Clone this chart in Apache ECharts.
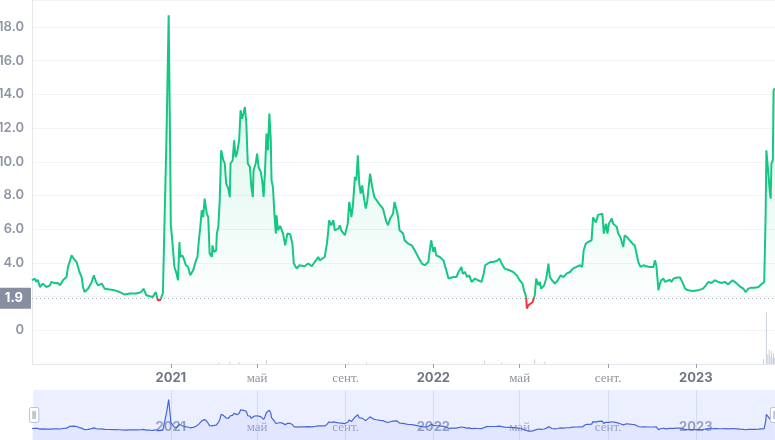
<!DOCTYPE html>
<html>
<head>
<meta charset="utf-8">
<script src="https://cdn.jsdelivr.net/npm/echarts@6.0.0/dist/echarts.min.js"></script>
<style>
html, body { margin: 0; padding: 0; background: #fff; }
#chart { width: 775px; height: 440px; }
</style>
</head>
<body>
<div id="chart"></div>
<script>
// x values are days counted from 2021-01-01
var priceDays = [
  -193, -189, -187, -185, -182, -178, -173, -168, -166, -161, -157, -154, -150, -145, -143, -140, -138, -135, -131, -127,
  -124, -122, -120, -115, -110, -107, -104, -101, -96, -92, -85, -78, -71, -64, -57, -48, -41, -38, -34, -29,
  -25, -21, -18, -15, -13, -11, -9, -6, -3, -1, 0,
  2, 5, 8, 10, 12, 13, 16, 18, 21, 24, 27, 31, 35, 37, 39, 41, 43, 45, 47, 50,
  52, 54, 57, 58, 60, 63, 64, 66, 68, 70, 73, 75, 77, 80, 82, 83, 86, 88, 90, 92,
  95, 97, 99, 101, 103, 105, 107, 110, 112, 114, 115, 118, 120, 122, 125, 127, 129, 131, 133, 135,
  137, 139, 140, 142, 144, 146, 147, 149, 152, 156, 159, 162, 166, 169, 171, 175, 179, 186, 191, 196,
  200, 205, 207, 214, 217, 219, 220, 223, 226, 228, 233, 235, 237, 242, 246, 248, 250, 251, 253, 256,
  258, 260, 262, 264, 266, 268, 271, 273, 277, 280, 283, 286, 288, 291, 295, 299, 302, 305, 309, 311,
  314, 316, 318, 323, 325, 330, 335, 339, 344, 349, 353, 358, 360, 362, 365, 367, 369, 374, 379, 383,
  386, 388, 393, 397, 400, 404, 406, 409, 412, 415, 418, 423, 427, 432, 435, 437, 439, 444, 448, 453,
  457, 460, 464, 471, 476, 481, 485, 489, 491, 494, 495, 497, 500, 503, 506, 508, 511, 513, 515, 519,
  522, 525, 527, 530, 534, 538, 542, 546, 550, 555, 559, 564, 569, 572, 574, 577, 580, 585, 587, 591,
  594, 596, 600, 602, 605, 607, 609, 613, 615, 620, 622, 625, 629, 631, 634, 638, 642, 645, 647, 650,
  653, 657, 661, 666, 671, 673, 675, 678, 680, 682, 685, 687, 689, 694, 696, 699, 704, 708, 711, 715,
  719, 726, 733, 740, 744, 747, 752, 756, 761, 766, 770, 775, 781, 787, 791, 796, 799, 803, 807, 812,
  817, 821, 825, 827, 828, 830, 833, 834, 835, 837, 838, 840
];
var priceValues = [
  2.97, 3.07, 2.87, 3.0, 2.57, 2.77, 2.57, 2.67, 2.87, 2.79, 2.8, 2.67, 2.97, 3.16, 3.76, 4.15, 4.45, 4.25, 4.05, 3.46,
  3.16, 2.57, 2.27, 2.47, 2.87, 3.26, 2.87, 2.67, 2.77, 2.47, 2.42, 2.37, 2.27, 2.12, 2.18, 2.18, 2.27, 2.47, 2.08, 2.02,
  1.98, 2.27, 1.78, 1.78, 1.98, 2.2, 6.0, 11.5, 18.7, 11.0, 6.3,
  5.34, 3.76, 3.36, 2.97, 5.24, 4.35, 4.45, 4.25, 3.86, 3.76, 3.26, 3.56, 4.15, 4.35, 5.34, 6.13, 7.12, 6.72, 7.81, 6.92,
  6.72, 4.55, 4.35, 5.04, 4.65, 4.75, 5.74, 6.13, 7.72, 10.68, 10.09, 9.9, 8.7, 8.4, 7.9, 9.9, 10.09, 11.28, 10.28, 10.49,
  11.28, 13.06, 12.56, 12.86, 13.25, 12.27, 9.9, 9.69, 8.5, 7.91, 9.5, 9.9, 10.49, 9.69, 9.4, 8.9, 7.91, 9.5, 11.67, 10.68,
  12.86, 11.28, 8.9, 8.5, 6.92, 5.74, 6.82, 5.93, 6.2, 5.74, 5.04, 5.74, 5.7, 5.14, 3.96, 3.66, 3.86, 3.8, 3.96, 3.8,
  4.05, 4.35, 4.15, 4.35, 5.14, 5.93, 6.53, 6.23, 6.53, 5.93, 6.03, 6.23, 5.93, 5.64, 6.33, 7.62, 7.12, 6.72, 7.32, 9.1,
  8.9, 10.39, 8.7, 8.11, 8.6, 8.01, 7.22, 7.62, 9.3, 8.5, 7.91, 7.72, 7.81, 7.42, 7.22, 6.53, 6.23, 6.63, 6.92, 7.62,
  7.12, 6.72, 5.93, 5.74, 5.34, 5.14, 5.04, 4.75, 4.35, 3.96, 3.86, 4.05, 4.75, 5.34, 4.65, 4.94, 4.45, 4.35, 4.15, 3.56,
  3.07, 3.0, 3.16, 3.16, 3.46, 3.76, 3.36, 3.46, 3.16, 3.26, 2.87, 3.07, 2.97, 2.87, 3.36, 3.86, 3.96, 4.05, 4.05, 4.11,
  4.25, 3.96, 3.66, 3.56, 3.46, 3.26, 2.97, 2.77, 2.37, 1.98, 1.29, 1.48, 1.58, 1.68, 2.08, 3.07, 2.67, 2.87, 2.47, 2.67,
  3.07, 3.96, 3.16, 2.97, 2.77, 2.97, 3.26, 3.16, 3.36, 3.46, 3.66, 3.76, 3.86, 3.76, 4.75, 5.14, 5.24, 5.34, 6.7, 6.4,
  6.85, 6.82, 6.92, 5.74, 6.33, 5.74, 6.33, 6.63, 6.33, 6.13, 5.74, 5.54, 4.94, 5.64, 5.54, 5.34, 5.14, 5.04, 4.94, 4.05,
  3.76, 3.86, 3.8, 3.76, 3.76, 4.15, 3.86, 2.37, 2.77, 2.97, 3.07, 2.87, 2.77, 3.0, 2.87, 3.07, 3.13, 3.13, 2.87, 2.47,
  2.37, 2.33, 2.37, 2.47, 2.67, 2.87, 2.81, 2.97, 2.87, 2.81, 2.87, 2.73, 2.97, 2.77, 2.61, 2.47, 2.27, 2.47, 2.53, 2.53,
  2.57, 2.73, 2.87, 6.92, 10.68, 9.69, 8.11, 7.81, 9.9, 10.09, 14.24, 14.36
];
var volumeDays = [67, 82, 95, 133, 247, 272, 436, 460, 506, 520, 824, 828, 830, 832, 833, 835, 836, 838, 839];
var volumeValues = [3, 4, 3, 7, 3, 3, 6, 3, 9, 4, 9, 96, 18, 27, 14, 24, 10, 20, 12];
var tickDays = [0, 120, 243, 365, 485, 608, 730];
var tickLabels = ['2021', 'май', 'сент.', '2022', 'май', 'сент.', '2023'];
var baseLine = 1.9;
var dayMin = -193;
var dayMax = 840;
var priceMin = -2;
var priceMax = 19.6;

var chart = echarts.init(document.getElementById('chart'));

var priceData = priceDays.map(function (d, i) { return [d, priceValues[i]]; });
var volumeData = volumeDays.map(function (d, i) { return [d, volumeValues[i]]; });

function tickText(value) {
  var i = tickDays.indexOf(Math.round(value));
  if (i < 0) return '';
  var t = tickLabels[i];
  return /^\d+$/.test(t) ? '{y|' + t + '}' : '{m|' + t + '}';
}

var option = {
  animation: false,
  backgroundColor: '#fff',
  grid: [
    {left: 32, right: 0, top: 0, bottom: 76, outerBoundsMode: 'none', containLabel: false},
    {left: 32, right: 0, top: 310, bottom: 76, outerBoundsMode: 'none', containLabel: false},
    {left: 32, right: 0, top: 390, height: 50, outerBoundsMode: 'none', containLabel: false}
  ],
  xAxis: [
    {
      type: 'value', gridIndex: 0, min: dayMin, max: dayMax,
      axisLine: {onZero: false, lineStyle: {color: '#e4e7ec'}},
      axisTick: {customValues: tickDays, length: 4, lineStyle: {color: '#9aa1ad'}},
      axisLabel: {
        customValues: tickDays, margin: 8, formatter: tickText,
        rich: {
          y: {fontFamily: 'Inter', fontWeight: 'bold', fontSize: 13, color: '#6f7684'},
          m: {fontFamily: 'Liberation Serif', fontSize: 13, color: '#8f95a2'}
        }
      },
      splitLine: {show: false}
    },
    {type: 'value', gridIndex: 1, min: dayMin, max: dayMax, show: false},
    {
      type: 'value', gridIndex: 2, min: dayMin, max: dayMax,
      axisLine: {show: false, onZero: false},
      axisTick: {customValues: tickDays, inside: true, length: 50, lineStyle: {color: 'rgba(140,155,200,0.22)'}},
      axisLabel: {
        customValues: tickDays, margin: -19, formatter: tickText,
        rich: {
          y: {fontFamily: 'Inter', fontWeight: 'bold', fontSize: 13, color: '#a3a9ba'},
          m: {fontFamily: 'Liberation Serif', fontSize: 13, color: '#a9aebd'}
        }
      },
      splitLine: {show: false}
    }
  ],
  yAxis: [
    {
      type: 'value', gridIndex: 0, min: priceMin, max: priceMax, interval: 2,
      axisLine: {show: true, onZero: false, lineStyle: {color: '#e4e7ec'}},
      axisTick: {show: false},
      axisLabel: {
        margin: 8, color: '#8e95a4', fontSize: 13, fontWeight: 600, fontFamily: 'Inter',
        formatter: function (v) {
          if (v === 0) return '0';
          if (v < 4 || Math.abs(v % 2) > 0.001) return '';
          return v.toFixed(1);
        }
      },
      splitLine: {lineStyle: {color: '#f2f3f5'}}
    },
    {type: 'value', gridIndex: 1, min: 0, max: 100, show: false},
    {type: 'value', gridIndex: 2, min: -3.3, max: 23.9, show: false}
  ],
  visualMap: {
    type: 'piecewise', show: false, seriesIndex: 0, dimension: 1,
    pieces: [
      {min: priceMin, max: baseLine, color: '#ea3943'},
      {min: baseLine, max: priceMax, color: '#16c784'}
    ]
  },
  dataZoom: [{
    type: 'slider', xAxisIndex: [0, 1], start: 0, end: 100,
    left: 32, right: 0, top: 390, height: 50,
    backgroundColor: 'transparent', borderColor: 'transparent',
    fillerColor: 'rgba(56,97,251,0.1)',
    showDetail: false, showDataShadow: false, brushSelect: false, moveHandleSize: 0,
    dataBackground: {lineStyle: {opacity: 0}, areaStyle: {opacity: 0}},
    selectedDataBackground: {lineStyle: {opacity: 0}, areaStyle: {opacity: 0}},
    handleIcon: 'path://M2,0 L8,0 Q10,0 10,2 L10,14 Q10,16 8,16 L2,16 Q0,16 0,14 L0,2 Q0,0 2,0 Z M3.5,4 L3.5,12 L4.5,12 L4.5,4 Z M5.5,4 L5.5,12 L6.5,12 L6.5,4 Z',
    handleSize: '30%',
    handleStyle: {color: '#fff', borderColor: '#bcc2cf', borderWidth: 1}
  }],
  series: [
    {
      name: 'price', type: 'line', xAxisIndex: 0, yAxisIndex: 0,
      data: priceData, showSymbol: false, symbol: 'none',
      lineStyle: {width: 2},
      areaStyle: {
        origin: baseLine,
        color: new echarts.graphic.LinearGradient(0, 0, 0, 1, [
          {offset: 0, color: 'rgba(22,199,132,0.28)'},
          {offset: 1, color: 'rgba(22,199,132,0.01)'}
        ])
      },
      markLine: {
        silent: true, symbol: 'none',
        lineStyle: {type: [1, 3], color: '#a6aebd', width: 1},
        label: {
          position: 'start', distance: 1, formatter: String(baseLine),
          backgroundColor: '#878ea0', color: '#fff', padding: [4, 8, 4, 8],
          fontSize: 13, fontWeight: 'bold', fontFamily: 'Inter'
        },
        data: [{yAxis: baseLine}]
      }
    },
    {
      name: 'volume', type: 'bar', xAxisIndex: 1, yAxisIndex: 1,
      data: volumeData, barWidth: 1, itemStyle: {color: '#c9d0dc'}
    },
    {
      name: 'overview', type: 'line', xAxisIndex: 2, yAxisIndex: 2,
      data: priceData, showSymbol: false, symbol: 'none',
      lineStyle: {width: 1.2, color: '#4868d2'},
      areaStyle: {origin: 'start', color: 'rgba(56,97,251,0.07)'}
    }
  ]
};

chart.setOption(option);
</script>
</body>
</html>
